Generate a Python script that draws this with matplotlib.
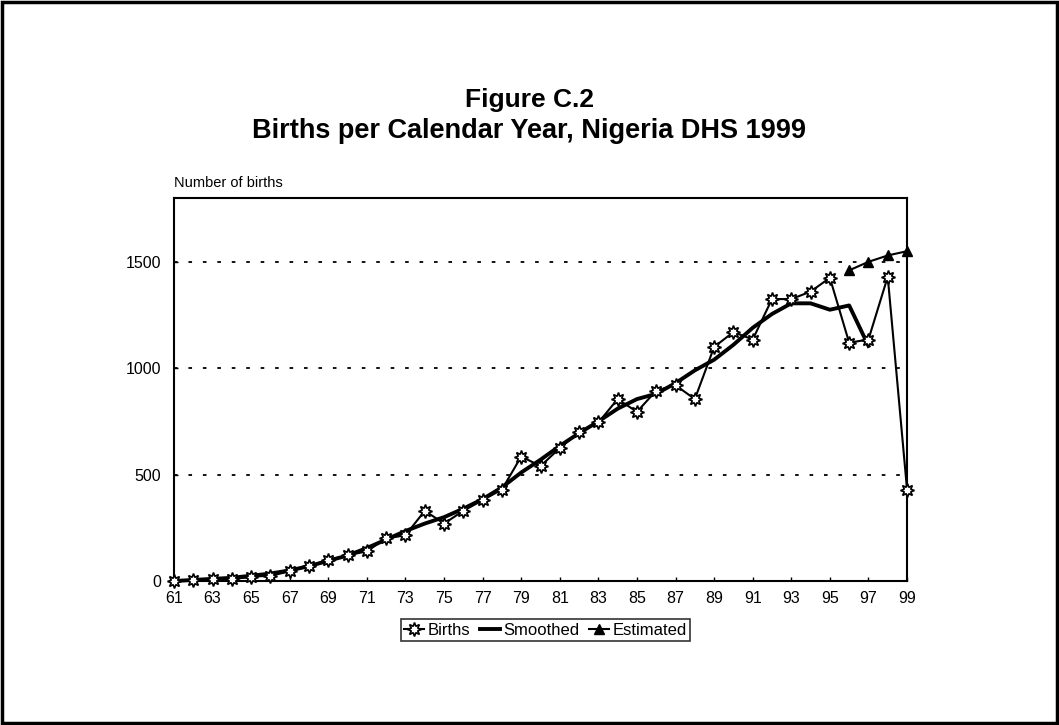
import matplotlib
matplotlib.use("Agg")
import matplotlib.pyplot as plt
from matplotlib.patches import Rectangle

years = list(range(61, 100))
births = [0, 3, 10, 8, 20, 25, 45, 70, 100, 120, 140, 200, 215, 330, 270, 330,
          380, 430, 585, 540, 625, 700, 745, 855, 795, 895, 920, 855, 1100, 1170,
          1135, 1325, 1325, 1360, 1425, 1120, 1135, 1430, 430]
smooth_years = list(range(61, 98))
smoothed = [0, 5, 10, 15, 25, 35, 50, 70, 95, 120, 155, 195, 235, 270, 300, 340,
            385, 440, 510, 570, 635, 695, 750, 810, 855, 880, 930, 990, 1040, 1110,
            1190, 1255, 1305, 1305, 1275, 1295, 1105]
est_years = [96, 97, 98, 99]
estimated = [1460, 1500, 1530, 1550]
xtick_labels = [str(y) for y in range(61, 100, 2)]
yticks = [0, 500, 1000, 1500]

plt.rcParams['font.family'] = ['Liberation Sans', 'DejaVu Sans']

fig = plt.figure(figsize=(10.59, 7.25), dpi=100)
fig.patches.append(Rectangle((0.002, 0.003), 0.996, 0.994, transform=fig.transFigure,
                             fill=False, edgecolor='black', linewidth=2.5))

ax = fig.add_axes([0.1643, 0.1986, 0.6922, 0.5283])
ax.plot(years, births, color='black', linewidth=1.5, marker=(8, 1, 0),
        markersize=10, markerfacecolor='white', markeredgecolor='black',
        markeredgewidth=1.2, label='Births', zorder=3, clip_on=False)
ax.plot(smooth_years, smoothed, color='black', linewidth=2.8, label='Smoothed',
        zorder=2, clip_on=False)
ax.plot(est_years, estimated, color='black', linewidth=1.5, marker='^',
        markersize=7, label='Estimated', zorder=3, clip_on=False)

ax.set_xlim(61, 99)
ax.set_ylim(0, 1800)
ax.set_xticks(list(range(61, 100, 2)))
ax.set_xticklabels(xtick_labels)
ax.set_yticks(yticks)
ax.tick_params(axis='both', labelsize=11.5, length=3, width=1, direction='in')
ax.tick_params(axis='x', pad=7)
ax.tick_params(axis='y', pad=9)
for s in ax.spines.values():
    s.set_linewidth(1.5)
for v in yticks[1:]:
    ax.axhline(v, color='black', linestyle=(0, (2, 6)), linewidth=1.3, zorder=1)

fig.text(0.1643, 0.748, 'Number of births', fontsize=10.5, ha='left', va='center')

fig.text(0.5, 0.862, 'Figure C.2', fontsize=19, fontweight='bold', ha='center', va='center')
fig.text(0.5, 0.82, 'Births per Calendar Year, Nigeria DHS 1999', fontsize=19.5,
         fontweight='bold', ha='center', va='center')

leg = fig.legend(loc='center', bbox_to_anchor=(0.515, 0.131), ncol=3, fontsize=12,
                 frameon=True, fancybox=False, edgecolor='black', handlelength=1.2,
                 handletextpad=0.2, columnspacing=0.6, borderpad=0.2)
leg.get_frame().set_linewidth(1.2)

fig.savefig('out.png', dpi=100)
